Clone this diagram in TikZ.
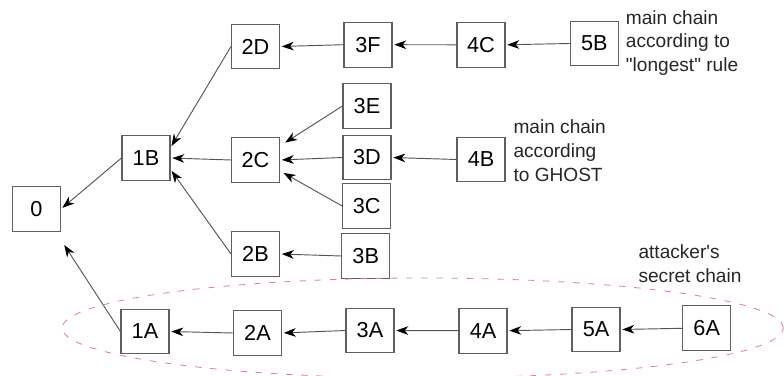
\documentclass[tikz,border=0pt]{standalone}
\usepackage{fontspec}
\setmainfont{Liberation Sans}[Ligatures=TeXOff]
\usepackage{tikz}
\usetikzlibrary{arrows.meta, positioning}
\definecolor{boxLine}{HTML}{5F5F5F}
\definecolor{edgeLine}{HTML}{555555}
\definecolor{secretPink}{HTML}{D9809E}

\begin{document}
\begin{tikzpicture}[x=0.03cm, y=-0.03cm,
    block/.style={rectangle, draw=boxLine, line width=0.9pt, minimum width=1.44cm, minimum height=1.34cm, inner sep=0pt, font=\fontsize{18.5}{22}\selectfont},
    arr/.style={draw=edgeLine, line width=0.8pt, shorten >=1.5pt, -{Stealth[length=0.36cm, width=0.26cm, inset=0.11cm, color=black]}},
    note/.style={anchor=west, align=left, inner sep=0pt, text=black!85, font=\fontsize{16.3}{20.4}\selectfont}]
        \useasboundingbox (0,0) rectangle (784,376);

        % Genesis and the public tree
        \node[block] (n0)  at (36.5,209) {0};
        \node[block] (n1B) at (146,158) {1B};
        \node[block] (n2D) at (255.5,46.5) {2D};
        \node[block] (n2C) at (255.5,160) {2C};
        \node[block] (n2B) at (255.5,254) {2B};
        \node[block] (n3F) at (368,44.7) {3F};
        \node[block] (n3E) at (367,106) {3E};
        \node[block] (n3D) at (367,157.5) {3D};
        \node[block] (n3C) at (366.7,206) {3C};
        \node[block] (n3B) at (365.7,256) {3B};
        \node[block] (n4C) at (481,44.8) {4C};
        \node[block] (n4B) at (481,159.5) {4B};
        \node[block] (n5B) at (594.3,43.5) {5B};

        % Secret chain
        \node[block] (n1A) at (145,331.5) {1A};
        \node[block] (n2A) at (257.5,333) {2A};
        \node[block] (n3A) at (370,330.5) {3A};
        \node[block] (n4A) at (483,330.7) {4A};
        \node[block] (n5A) at (596,329.5) {5A};
        \node[block] (n6A) at (706.7,328.3) {6A};

        % Side notes
        \node[note] (longNote)   at (625.7,43) {main chain\\according to\\"longest" rule};
        \node[note] (ghostNote)  at (513.3,150.5) {main chain\\according\\to GHOST};
        \node[note] (secretNote) at (638.3,263.7) {attacker's\\secret chain};

        % Links back to the parent block
        \draw[arr] (n1B.west) -- (n0.east);
        \draw[arr, shorten >=0.47cm] (n1A.west) -- (n0.-50);
        \draw[arr] (n2D.west) -- (n1B.23);
        \draw[arr] (n2C.west) -- (n1B.east);
        \draw[arr] (n2B.west) -- (n1B.-25);
        \draw[arr] (n3F.west) -- (n2D.east);
        \draw[arr, shorten >=0.18cm] (n3E.west) -- (n2C.30);
        \draw[arr] (n3D.west) -- (n2C.east);
        \draw[arr, shorten >=0.12cm] (n3C.west) -- (n2C.-24);
        \draw[arr] (n3B.west) -- (n2B.east);
        \draw[arr] (n4C.west) -- (n3F.east);
        \draw[arr] (n4B.west) -- (n3D.east);
        \draw[arr] (n5B.west) -- (n4C.east);
        \draw[arr] (n2A.west) -- (n1A.east);
        \draw[arr] (n3A.west) -- (n2A.east);
        \draw[arr] (n4A.west) -- (n3A.east);
        \draw[arr] (n5A.west) -- (n4A.east);
        \draw[arr] (n6A.west) -- (n5A.east);

        % Dashed outline round the secret chain
        \draw[secretPink, line width=0.7pt, dash pattern=on 5.5pt off 7.5pt] (422.7,328) ellipse [x radius=10.815cm, y radius=1.5cm];
\end{tikzpicture}
\end{document}
